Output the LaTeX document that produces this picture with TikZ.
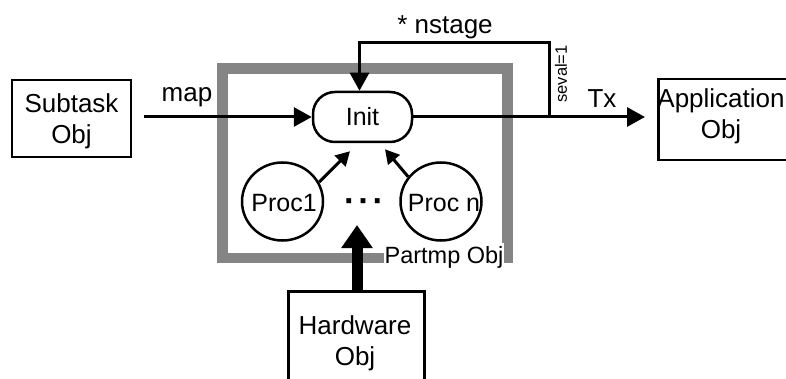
\documentclass[tikz,border=0pt]{standalone}
\usepackage{fontspec}
\setmainfont{Liberation Sans}
\usetikzlibrary{arrows.meta,shapes.geometric,calc}
\definecolor{framegray}{HTML}{858585}
\begin{document}
\begin{tikzpicture}[x=1pt,y=-1pt,
  txt/.style={font=\fontsize{26}{31}\selectfont, inner sep=0pt, align=center},
  intxt/.style={font=\fontsize{25}{29}\selectfont, inner sep=0pt, align=center},
  box/.style={draw, line width=2.5pt, inner sep=0pt},
  conn/.style={line width=3pt, -{Triangle[length=18pt,width=19pt]}},
  smallconn/.style={line width=3pt, -{Triangle[length=14pt,width=15pt]}},
  bigconn/.style={line width=11pt, -{Triangle[length=23pt,width=30pt]}},
  procnode/.style={ellipse, draw, line width=2.5pt, minimum width=81pt, minimum height=78pt, inner sep=0pt}]
\useasboundingbox (0,0) rectangle (786,379);

% frame
\node[draw=framegray, line width=10.5pt, minimum width=285pt, minimum height=189.5pt, inner sep=0pt] (frame) at (365,163.25) {};
\node[fill=white, font=\fontsize{23.5}{24}\selectfont, inner xsep=1pt, inner ysep=3pt] (plabel) at (444,257) {Partmp Obj};

% boxes
\node[box, minimum width=119pt, minimum height=77pt] (sub) at (71.5,118.5) {};
\node[txt] (subtxt) at (71.5,121) {Subtask\\Obj};
\node[box, anchor=north west, minimum width=150pt, minimum height=81pt] (app) at (657,78) {};
\node[txt] (apptxt) at (721,116) {Application\\Obj};
\node[box, anchor=north west, minimum width=136pt, minimum height=130pt] (hw) at (287,290) {};
\node[txt] (hwtxt) at (355,343) {Hardware\\Obj};

% inner nodes
\node[draw, line width=2.5pt, rounded corners=22pt, minimum width=99pt, minimum height=50pt, inner sep=0pt, intxt] (init) at (362.5,117) {Init};
\node[procnode] (proc1) at (282.5,201.5) {};
\node[intxt] (proc1txt) at (284,203) {Proc1};
\node[procnode] (procn) at (441,201.5) {};
\node[intxt] (procntxt) at (444,203) {Proc n};
\node[font=\bfseries\fontsize{34}{34}\selectfont, inner sep=0pt] (dots) at (364,206) {·\hspace{3pt}·\hspace{3pt}·};

% connectors
\draw[conn, shorten <=12pt] (sub.east |- init.west) -- (init.west);
\node[txt] (maplbl) at (187,97) {map};

\draw[conn, shorten >=12pt] (init.east) -- (init.east -| app.west);
\node[txt] (txlbl) at (602,99) {Tx};

\coordinate (fb) at (549,117);
\coordinate (fbtop) at (549,43);
\draw[conn] (fb) -- (fbtop) -| ([xshift=-3pt]init.north);
\node[txt] (nstage) at (445,27) {* nstage};
\node[font=\fontsize{16.5}{17}\selectfont, inner sep=0pt, rotate=90] (seval) at (561,74) {seval=1};

\draw[smallconn] (proc1.28) -- ($(init.south)+(-12.5,8)$);
\draw[smallconn] (procn.143) -- ($(init.south)+(22.5,6)$);

\coordinate (hwtip) at (357,225);
\draw[bigconn] (hwtip |- hw.north) -- (hwtip);
\end{tikzpicture}
\end{document}
